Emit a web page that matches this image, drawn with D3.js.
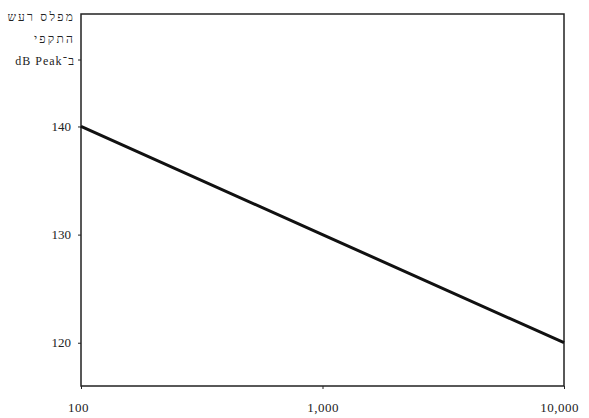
<!DOCTYPE html>
<html>
<head>
<meta charset="utf-8">
<script src="https://cdn.jsdelivr.net/npm/d3@7"></script>
<style>
  body { margin: 0; background: #fff; }
  text { font-family: "Liberation Serif", "DejaVu Serif", serif; fill: #222; }
</style>
</head>
<body>
<div id="chart"></div>
<script>
// frequency (Hz) and peak noise level (dB)
var freqs = [100, 1000, 10000];
var levels = [140, 130, 120];
var xTicks = [100, 1000, 10000];
var xTickLabels = ["100", "1,000", "10,000"];
var yTicks = [120, 130, 140];
var yTitle = ["מפלס רעש", "התקפי", "ב־dB Peak"];

function drawChart() {
    var width = 589, height = 418;
    var margin = {top: 14, right: 25, bottom: 32, left: 81};

    var svg = d3.select("#chart")
            .append("svg")
            .attr("width", width)
            .attr("height", height);

    var x = d3.scaleLog()
            .domain([100, 10000])
            .range([margin.left, width - margin.right]);

    var y = d3.scaleLinear()
            .domain([116, 150.4])
            .range([height - margin.bottom, margin.top]);

    // frame
    svg.append("rect")
        .attr("x", margin.left)
        .attr("y", margin.top)
        .attr("width", width - margin.left - margin.right)
        .attr("height", height - margin.top - margin.bottom)
        .style("fill", "none")
        .style("stroke", "#222")
        .style("stroke-width", 1.5);

    var xAxis = svg.append("g")
        .attr("transform", "translate(0," + (height - margin.bottom) + ")")
        .call(d3.axisBottom(x)
            .tickValues(xTicks)
            .tickSize(3)
            .tickFormat(function(d, i) { return xTickLabels[i]; }));
    xAxis.select(".domain").remove();
    xAxis.selectAll("text")
        .attr("dy", "1.5em")
        .attr("dx", function(d, i) { return i == 2 ? -5 : (i == 0 ? -3 : 0); })
        .style("font-size", "13px")
        .style("letter-spacing", "0.5px");
    xAxis.selectAll("line").style("stroke", "#222");

    var yAxis = svg.append("g")
        .attr("transform", "translate(" + margin.left + ",0)")
        .call(d3.axisLeft(y)
            .tickValues(yTicks)
            .tickSize(3)
            .tickFormat(d3.format("d")));
    yAxis.select(".domain").remove();
    yAxis.selectAll("text").attr("x", -10).style("font-size", "13px");
    yAxis.selectAll("line").style("stroke", "#222");

    // axis title (Hebrew, right to left)
    svg.append("g").selectAll("text")
        .data(yTitle)
        .enter()
        .append("text")
        .attr("x", 75)
        .attr("y", function(d, i) { return 21 + i * 22; })
        .attr("direction", "rtl")
        .attr("text-anchor", "start")
        .style("font-size", "12px")
        .style("letter-spacing", function(d, i) { return i < 2 ? "2.2px" : "1px"; })
        .text(function(d) { return d; });

    svg.append("line")
        .attr("x1", margin.left - 3).attr("x2", margin.left)
        .attr("y1", 60).attr("y2", 60)
        .style("stroke", "#222");

    var line = d3.line()
        .x(function(d, i) { return x(freqs[i]); })
        .y(function(d) { return y(d); });

    svg.append("path")
        .datum(levels)
        .attr("d", line)
        .style("fill", "none")
        .style("stroke", "#111")
        .style("stroke-width", 3);
}

drawChart();
</script>
</body>
</html>
